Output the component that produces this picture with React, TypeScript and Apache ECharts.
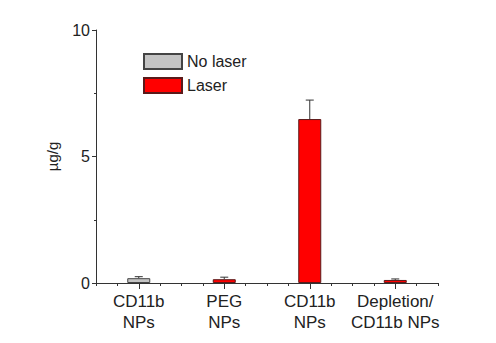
import React, { useEffect, useRef } from "react";
import * as echarts from "echarts";

const categories = ["CD11b\nNPs", "PEG\nNPs", "CD11b\nNPs", "Depletion/\nCD11b NPs"];
const noLaser: (number | string)[] = [0.19, "-", "-", "-"];
const laser: (number | string)[] = ["-", 0.15, 6.48, 0.12];
const means = [0.19, 0.15, 6.48, 0.12];
const errors = [0.06, 0.08, 0.75, 0.04];
const yTicks = [0, 5, 10];

export default function App() {
  const ref = useRef<HTMLDivElement>(null);
  useEffect(() => {
    if (!ref.current) return;
    const chart = echarts.init(ref.current, undefined, { renderer: "svg" });
    const font = "'Liberation Sans', Arial, sans-serif";
    const axisColor = "#333";
    const errData = means.map((m, i) => [i, m, m + errors[i]]);
    chart.setOption({
      animation: false,
      backgroundColor: "#fff",
      textStyle: { fontFamily: font },
      grid: { left: 96, right: 58, top: 30, bottom: 60, containLabel: false },
      legend: {
        orient: "vertical",
        left: 143,
        top: 53,
        padding: 0,
        itemWidth: 38,
        itemHeight: 15,
        itemGap: 7,
        icon: "rect",
        textStyle: { fontSize: 16, color: "#222", fontFamily: font },
        data: ["No laser", "Laser"],
      },
      xAxis: [
        {
          type: "category",
          data: categories,
          position: "bottom",
          axisLine: { show: true, lineStyle: { color: axisColor, width: 1 } },
          axisTick: { show: true, alignWithLabel: true, length: 6, lineStyle: { color: axisColor } },
          axisLabel: {
            fontSize: 17,
            color: "#222",
            lineHeight: 21,
            margin: 8,
            fontFamily: font,
            interval: 0,
          },
        },
        {
          type: "value",
          position: "bottom",
          min: 0,
          max: 16,
          interval: 1,
          axisLine: { show: false },
          axisTick: { show: true, length: 3, lineStyle: { color: axisColor } },
          axisLabel: { show: false },
          splitLine: { show: false },
        },
      ],
      yAxis: {
        type: "value",
        min: yTicks[0],
        max: yTicks[yTicks.length - 1],
        interval: 5,
        name: "µg/g",
        nameLocation: "middle",
        nameGap: 36,
        nameRotate: 90,
        nameTextStyle: { fontSize: 15, color: "#222", fontFamily: font },
        axisLine: { show: true, lineStyle: { color: axisColor, width: 1 } },
        axisTick: { show: true, length: 4, lineStyle: { color: axisColor } },
        minorTick: { show: true, splitNumber: 2, length: 2, lineStyle: { color: axisColor } },
        axisLabel: { fontSize: 16, color: "#222", margin: 6, fontFamily: font },
        splitLine: { show: false },
      },
      series: [
        {
          name: "No laser",
          type: "bar",
          stack: "s",
          barWidth: 23,
          data: noLaser,
          itemStyle: { color: "#c4c4c4", borderColor: "#444", borderWidth: 1 },
        },
        {
          name: "Laser",
          type: "bar",
          stack: "s",
          barWidth: 23,
          data: laser,
          itemStyle: { color: "#ff0000", borderColor: "#5a1a1a", borderWidth: 1 },
        },
        {
          type: "custom",
          name: "err",
          z: 5,
          data: errData,
          encode: { x: 0, y: [1, 2] },
          renderItem: (params: any, api: any) => {
            const x = api.value(0);
            const lo = api.coord([x, api.value(1)]);
            const hi = api.coord([x, api.value(2)]);
            const hw = 4;
            return {
              type: "group",
              children: [
                {
                  type: "line",
                  shape: { x1: lo[0], y1: lo[1], x2: hi[0], y2: hi[1] },
                  style: { stroke: "#333", lineWidth: 1 },
                },
                {
                  type: "line",
                  shape: { x1: hi[0] - hw, y1: hi[1], x2: hi[0] + hw, y2: hi[1] },
                  style: { stroke: "#333", lineWidth: 1 },
                },
              ],
            };
          },
        },
      ],
    });
    return () => chart.dispose();
  }, []);
  return (
    <div
      ref={ref}
      style={{ position: "fixed", left: 0, top: 0, width: 496, height: 343 }}
    />
  );
}
